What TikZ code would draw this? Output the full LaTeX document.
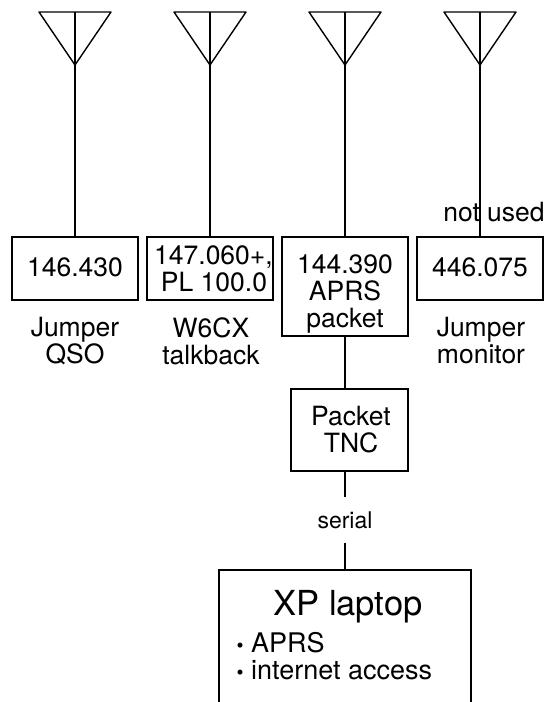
\documentclass[tikz,border=0pt]{standalone}
\usepackage{fontspec}
\setmainfont{TeX Gyre Heros}
\newcommand{\listdot}{\makebox[14.5pt][l]{\raisebox{.5pt}{\fontsize{20}{20}\selectfont\textbullet}}}
\tikzset{
  radiobox/.style={draw,line width=1.4pt,inner sep=0pt,minimum width=126pt,align=center,font=\fontsize{26.5}{27}\selectfont},
  caption/.style={inner sep=0pt,align=center,font=\fontsize{26.5}{27}\selectfont},
  wire/.style={line width=1.4pt},
}
\begin{document}
\begin{tikzpicture}[x=1pt,y=-1pt]
\path[use as bounding box,clip] (0,0) rectangle (546,702);
\node[radiobox,minimum height=63pt] (box1) at (75,268.5) {\raisebox{3pt}{146.430}};
\node[radiobox,minimum height=63pt] (box2) at (210,268.5) {\hspace*{7pt}147.060+,\\\hspace*{8pt}PL 100.0};
\node[radiobox,minimum height=99pt] (box3) at (345,286.5) {};
\node[caption] (freq3) at (345,294) {144.390\\APRS\\packet};
\node[radiobox,minimum height=63pt] (box4) at (480,268.5) {\raisebox{3pt}{446.075}};
\node[caption] (cap1) at (75,341) {Jumper\\QSO};
\node[caption] (cap2) at (211,341) {W6CX\\talkback};
\node[caption] (cap4) at (481,341) {Jumper\\monitor};
\node[caption] (unused) at (494,212) {not used};
\node[radiobox,minimum width=117pt,minimum height=82pt] (tnc) at (349.5,430) {\hspace*{3pt}Packet\\\hspace*{3pt}TNC};
\node[caption,minimum height=45pt,font=\fontsize{23}{25}\selectfont] (serial) at (345,520) {serial};
\node[radiobox,minimum width=252pt,minimum height=180pt] (laptop) at (345,660) {};
\node[caption,font=\fontsize{34.5}{40}\selectfont] (laptoptitle) at (348,607) {XP laptop};
\node[caption,anchor=west,align=left,font=\fontsize{27}{27}\selectfont] (laptoplist) at (236.5,656.5) {\listdot APRS\\\listdot internet access};
\foreach \n/\x in {1/75,2/210,3/345,4/480}{
  \coordinate (tip\n) at (\x,65);
  \coordinate (top\n) at (\x,12);
  \draw[wire,line join=round] (\x-36,12) -- (\x+36,12) -- (tip\n) -- cycle;
  \draw[wire] (top\n) -- (tip\n) -- (box\n.north);
}
\draw[wire] (box3.south) -- (box3.south |- tnc.north);
\draw[wire] (box3.south |- tnc.south) -- (serial.north);
\draw[wire] (serial.south) -- (laptop.north);
\end{tikzpicture}
\end{document}
